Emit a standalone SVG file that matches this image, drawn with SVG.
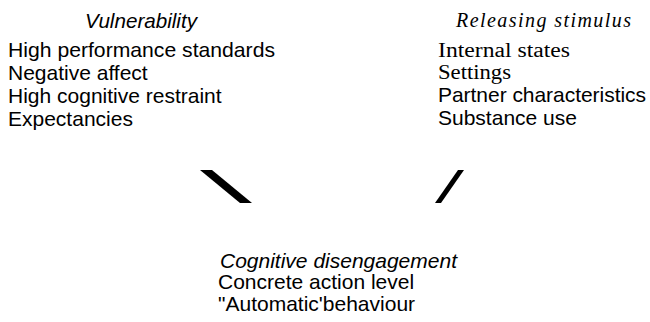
<svg xmlns="http://www.w3.org/2000/svg" width="650" height="322" viewBox="0 0 650 322">
<style>
.sans{font-family:"Liberation Sans",Arial,sans-serif;font-size:21px;fill:#000}
.serif{font-family:"Liberation Serif","Times New Roman",serif;font-size:20px;fill:#000}
.it{font-style:italic}
.conn{fill:#000;stroke:none}
</style>
<rect width="650" height="322" fill="#fff"/>
<g id="vulnerability">
<text class="sans it" x="85" y="28" textLength="112" lengthAdjust="spacingAndGlyphs">Vulnerability</text>
<text class="sans" x="8" y="57" textLength="267" lengthAdjust="spacingAndGlyphs">High performance standards</text>
<text class="sans" x="8" y="80">Negative affect</text>
<text class="sans" x="8" y="103">High cognitive restraint</text>
<text class="sans" x="8" y="126">Expectancies</text>
</g>
<g id="releasing-stimulus">
<text class="serif it" x="456" y="27" textLength="175" lengthAdjust="spacing">Releasing stimulus</text>
<text class="serif" x="438" y="57" textLength="132" lengthAdjust="spacingAndGlyphs">Internal states</text>
<text class="serif" x="438" y="79" textLength="73" lengthAdjust="spacingAndGlyphs">Settings</text>
<text class="sans" x="438" y="102" textLength="208" lengthAdjust="spacing">Partner characteristics</text>
<text class="sans" x="438" y="125">Substance use</text>
</g>
<g id="cognitive-disengagement">
<text class="sans it" x="220" y="268" textLength="237" lengthAdjust="spacingAndGlyphs">Cognitive disengagement</text>
<text class="sans" x="218" y="289">Concrete action level</text>
<text class="sans" x="218" y="311">"Automatic'behaviour</text>
</g>
<g id="connectors">
<path class="conn" d="M200,170 L212,170 L252,203 L240,203 Z"/>
<path class="conn" d="M458,170 L464,170 L441,203 L435,203 Z"/>
</g>
</svg>
